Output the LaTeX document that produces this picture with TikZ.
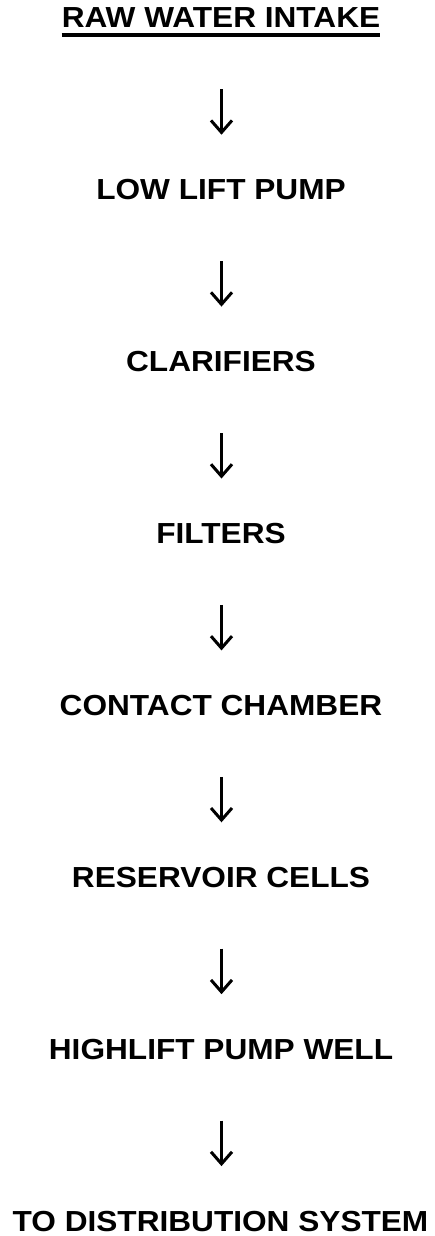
\documentclass[tikz,border=0pt]{standalone}
\usepackage{fontspec}
\setmainfont{Liberation Sans}[FakeStretch=1.09]
\usetikzlibrary{arrows.meta}
\begin{document}
\begin{tikzpicture}[x=1pt,y=1pt,
  stage/.style={anchor=base, inner sep=0pt, text height=21pt, text depth=0pt,
    font=\fontsize{29}{29}\selectfont\bfseries},
  flow/.style={line width=2.4pt, shorten <=61pt, shorten >=44pt,
    -{Straight Barb[length=12pt,width=21pt,line width=3pt]}}]
\useasboundingbox (0,0) rectangle (435,-1236);
\node[stage] (s0) at (221,-28) {RAW WATER INTAKE};
\node[stage] (s1) at (221,-199.9) {LOW LIFT PUMP};
\node[stage] (s2) at (221,-371.8) {CLARIFIERS};
\node[stage] (s3) at (221,-543.7) {FILTERS};
\node[stage] (s4) at (221,-715.6) {CONTACT CHAMBER};
\node[stage] (s5) at (221,-887.5) {RESERVOIR CELLS};
\node[stage] (s6) at (221,-1059.4) {HIGHLIFT PUMP WELL};
\node[stage] (s7) at (220.5,-1231.3) {TO DISTRIBUTION SYSTEM};
\draw[line width=4pt] ([yshift=-6.5pt]s0.south west) -- ([yshift=-6.5pt]s0.south east);
\foreach \a/\b in {s0/s1,s1/s2,s2/s3,s3/s4,s4/s5,s5/s6,s6/s7}
  \draw[flow] (\a.south -| 221.5,0) -- (\b.north -| 221.5,0);
\end{tikzpicture}
\end{document}
